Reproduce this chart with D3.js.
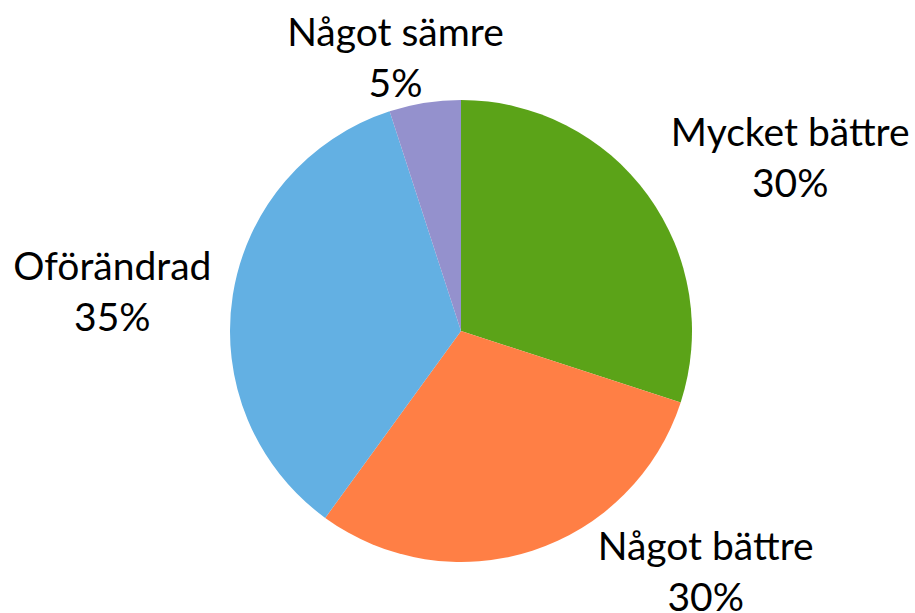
<!DOCTYPE html>
<html>
<head>
<meta charset="utf-8">
<script src="https://cdn.jsdelivr.net/npm/d3@7"></script>
<style>
  body { margin: 0; background: #fff; }
  svg { display: block; }
</style>
</head>
<body>
<svg id="chart"></svg>
<script>
// chart data
const categories = ['Mycket bättre', 'Något bättre', 'Oförändrad', 'Något sämre'];
const shares = [30, 30, 35, 5];
const sliceColors = ['#5ba318', '#ff7f45', '#63b0e3', '#9491cd'];

// label nudges (px) relative to the point on the label radius
const labelNudge = [[42, 33], [135, -100], [2, 14], [-10, 75]];

const width = 915, height = 613;
const cx = 461, cy = 331, radius = 231;
const labelRadius = 355;

const svg = d3.select('#chart')
  .attr('width', width)
  .attr('height', height);

const g = svg.append('g')
  .attr('transform', `translate(${cx}, ${cy})`);

const pie = d3.pie().sort(null).value(d => d);
const arc = d3.arc().innerRadius(0).outerRadius(radius);

const arcs = pie(shares);

g.selectAll('path')
  .data(arcs)
  .enter()
  .append('path')
  .attr('d', arc)
  .attr('fill', (d, i) => sliceColors[i]);

const total = d3.sum(shares);

const labels = g.selectAll('g.label')
  .data(arcs)
  .enter()
  .append('g')
  .attr('class', 'label')
  .attr('transform', (d, i) => {
    const mid = (d.startAngle + d.endAngle) / 2;
    const x = Math.sin(mid) * labelRadius + labelNudge[i][0];
    const y = -Math.cos(mid) * labelRadius + labelNudge[i][1];
    return `translate(${x}, ${y})`;
  })
  .style('font-family', 'Lato, "Open Sans", sans-serif')
  .style('font-size', '39px')
  .attr('text-anchor', 'middle')
  .attr('fill', '#000');

labels.append('text')
  .attr('y', -9)
  .text((d, i) => categories[i]);

labels.append('text')
  .attr('y', 42)
  .text(d => `${Math.round(d.data / total * 100)}%`);
</script>
</body>
</html>
